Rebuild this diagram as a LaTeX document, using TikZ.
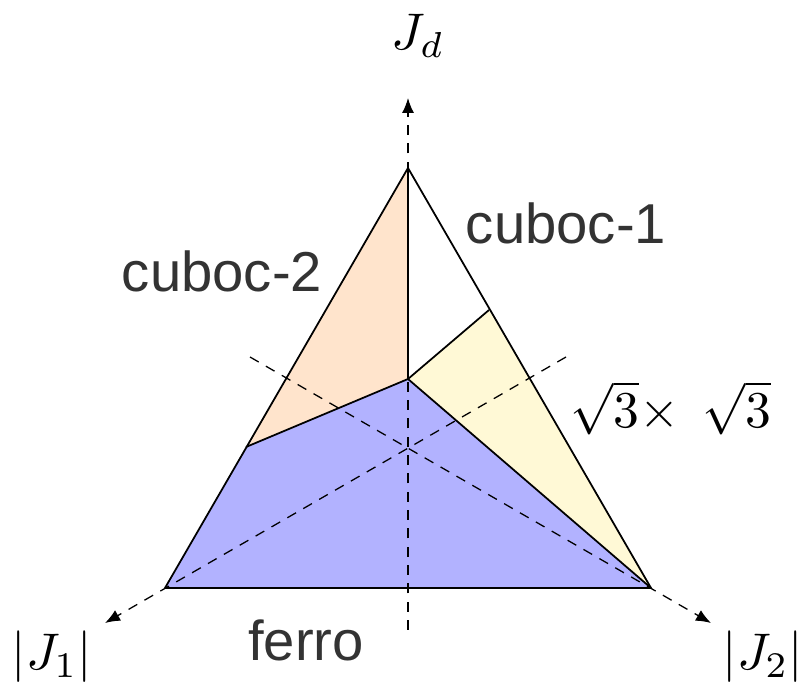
\documentclass[tikz,border=0pt]{standalone}
\usepackage{fontspec}
\setsansfont{Liberation Sans}
\usetikzlibrary{arrows.meta}
\definecolor{peach}{RGB}{255,228,204}
\definecolor{paleyellow}{RGB}{255,249,214}
\definecolor{ferroblue}{RGB}{178,178,255}
\definecolor{labelgray}{RGB}{51,51,51}
\begin{document}
\begin{tikzpicture}[x=0.03cm,y=-0.03cm,
  edge/.style={line width=1.5pt, line join=round},
  guide/.style={line width=1.1pt, dash pattern=on 0.3cm off 0.25cm},
  axisarrow/.style={guide, -{Latex[length=0.45cm,width=0.36cm]}},
  phase/.style={font=\sffamily\fontsize{48}{56}\selectfont, text=labelgray, inner sep=0pt},
  mathlabel/.style={scale=4.4, inner sep=0pt}]
\useasboundingbox (0,0) rectangle (803,685);
% vertices and region corners
\coordinate (T) at (408,168);
\coordinate (L) at (165,588);
\coordinate (R) at (651,588);
\coordinate (M) at (408,379);
\coordinate (P) at (489,310);
\coordinate (Q) at (246,447);
\coordinate (C) at (408,448);
% axis ends
\coordinate (topTip) at (408,98);
\coordinate (bottomEnd) at (408,630);
\coordinate (leftTip) at (105,623);
\coordinate (leftStart) at (566,357);
\coordinate (rightTip) at (711,623);
\coordinate (rightStart) at (250,357);
% fills
\fill[peach] (T) -- (M) -- (Q) -- cycle;
\fill[paleyellow] (M) -- (P) -- (R) -- cycle;
\fill[ferroblue] (L) -- (Q) -- (M) -- (R) -- cycle;
% dashed axes
\draw[axisarrow] (bottomEnd) -- (topTip);
\draw[axisarrow] (leftStart) -- (leftTip);
\draw[axisarrow] (rightStart) -- (rightTip);
% phase boundaries
\draw[edge] (T) -- (L) -- (R) -- cycle;
\draw[edge] (T) -- (M);
\draw[edge] (Q) -- (M) -- (R);
\draw[edge] (M) -- (P);
% labels
\node[mathlabel] (jd) at (418,36) {$J_d$};
\node[mathlabel] (j1) at (52,657) {$|J_1|$};
\node[mathlabel] (j2) at (763,657) {$|J_2|$};
\node[mathlabel] (sq) at (671,408) {$\sqrt{3}{\times}\hspace{0.45em}\sqrt{3}$};
\node[phase] (c2) at (222,271) {cuboc-2};
\node[phase] (c1) at (566,223) {cuboc-1};
\node[phase] (fe) at (306,640) {ferro};
\end{tikzpicture}
\end{document}
